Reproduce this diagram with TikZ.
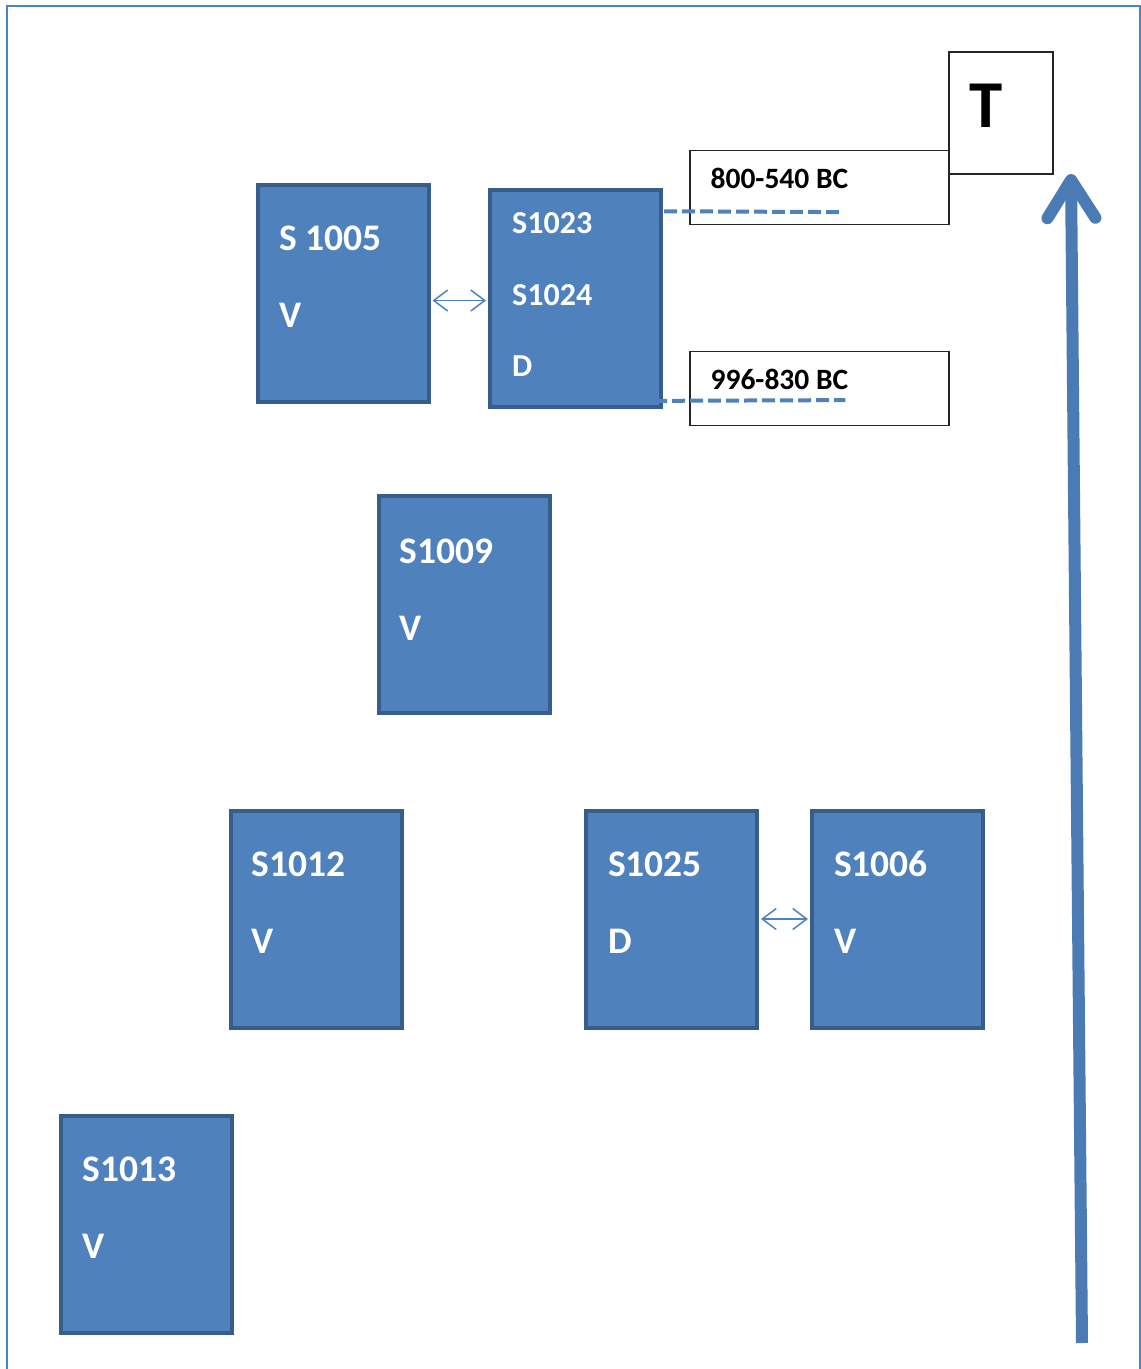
\documentclass[tikz,border=0pt]{standalone}
\usepackage{fontspec}
\setmainfont{Carlito}
\usetikzlibrary{arrows.meta,calc}
\definecolor{boxfill}{RGB}{79,129,189}
\definecolor{boxedge}{RGB}{56,93,138}
\definecolor{framec}{RGB}{72,132,204}
\tikzset{
  sbox/.style={draw=boxedge,fill=boxfill,line width=4pt,minimum width=171pt,minimum height=217pt,inner sep=0pt},
  bigtxt/.style={anchor=base west,inner sep=0pt,text=white,font=\fontsize{37.5}{44}\selectfont\bfseries},
  midtxt/.style={anchor=base west,inner sep=0pt,text=white,font=\fontsize{32}{38}\selectfont\bfseries},
  datebox/.style={draw=black!85,line width=1.2pt,fill=white,minimum width=259pt,minimum height=74pt,inner sep=0pt},
  datetxt/.style={anchor=base west,inner sep=0pt,font=\fontsize{29.5}{34}\selectfont\bfseries},
  dbl/.style={draw=boxfill,line width=1.5pt,{Straight Barb[length=14pt,width=21pt]}-{Straight Barb[length=14pt,width=21pt]}},
  dashc/.style={draw=boxfill,line width=4pt,dash pattern=on 13pt off 5pt},
}
\begin{document}
\begin{tikzpicture}[x=1pt,y=-1pt]
\useasboundingbox (0,0) rectangle (1141,1369);
% frame
\draw[framec,line width=1.5pt] (7,1380) -- (7,6) -- (1140,6) -- (1140,1380);
% boxes
\node[sbox] (s1005) at (343,293) {};
\node[sbox] (s1023) at (575.5,298.5) {};
\node[sbox] (s1009) at (464,604.5) {};
\node[sbox] (s1012) at (316,919) {};
\node[sbox] (s1025) at (671.5,919) {};
\node[sbox] (s1006) at (897.5,919) {};
\node[sbox] (s1013) at (146,1224) {};
% box texts
\node[bigtxt] (t1005a) at ($(s1005.north west)+(24,68)$) {S 1005};
\node[bigtxt] (t1005b) at ($(s1005.north west)+(24,145)$) {V};
\node[bigtxt] (t1009a) at ($(s1009.north west)+(23,69)$) {S1009};
\node[bigtxt] (t1009b) at ($(s1009.north west)+(23,146)$) {V};
\node[bigtxt] (t1012a) at ($(s1012.north west)+(23,68)$) {S1012};
\node[bigtxt] (t1012b) at ($(s1012.north west)+(23,145)$) {V};
\node[bigtxt] (t1025a) at ($(s1025.north west)+(24,68)$) {S1025};
\node[bigtxt] (t1025b) at ($(s1025.north west)+(24,145)$) {D};
\node[bigtxt] (t1006a) at ($(s1006.north west)+(24,68)$) {S1006};
\node[bigtxt] (t1006b) at ($(s1006.north west)+(24,145)$) {V};
\node[bigtxt] (t1013a) at ($(s1013.north west)+(24,68)$) {S1013};
\node[bigtxt] (t1013b) at ($(s1013.north west)+(24,145)$) {V};
\node[midtxt] (t1023a) at ($(s1023.north west)+(24,45)$) {S1023};
\node[midtxt] (t1023b) at ($(s1023.north west)+(24,117)$) {S1024};
\node[midtxt] (t1023c) at ($(s1023.north west)+(24,188)$) {D};
% date boxes and T box
\node[datebox] (d800) at (819.5,187.5) {};
\node[datebox] (d996) at (819.5,388.5) {};
\node[draw=black!85,line width=1.2pt,fill=white,minimum width=104pt,minimum height=122pt,inner sep=0pt] (tbox) at (1001,113) {};
\node[anchor=base west,inner sep=0pt,font=\fontsize{67}{70}\selectfont\bfseries] (tt) at ($(tbox.north west)+(21,76)$) {T};
\node[datetxt] (d800t) at ($(d800.north west)+(21,39)$) {800-540 BC};
\node[datetxt] (d996t) at ($(d996.north west)+(21,39)$) {996-830 BC};
% dashed connectors
\draw[dashc] ($(s1023.north east)+(-53,23)$) -- ($(d800.south west)+(150,-13)$);
\draw[dashc] ($(s1023.south east)+(-45,-8)$) -- ($(d996.south west)+(156,-26)$);
% double arrows
\draw[dbl] ($(s1005.east |- s1023.west)+(2,2)$) -- ($(s1023.west)+(-2,2)$);
\draw[dbl] ($(s1025.east)+(2,0)$) -- ($(s1006.west)+(-2,0)$);
% time arrow
\coordinate (abot) at (1082,1343);
\coordinate (atop) at (1071,174);
\draw[boxfill!95!black,line width=12pt,-{Straight Barb[round,length=38pt,width=48pt]}] (abot) -- (atop);
\end{tikzpicture}
\end{document}
